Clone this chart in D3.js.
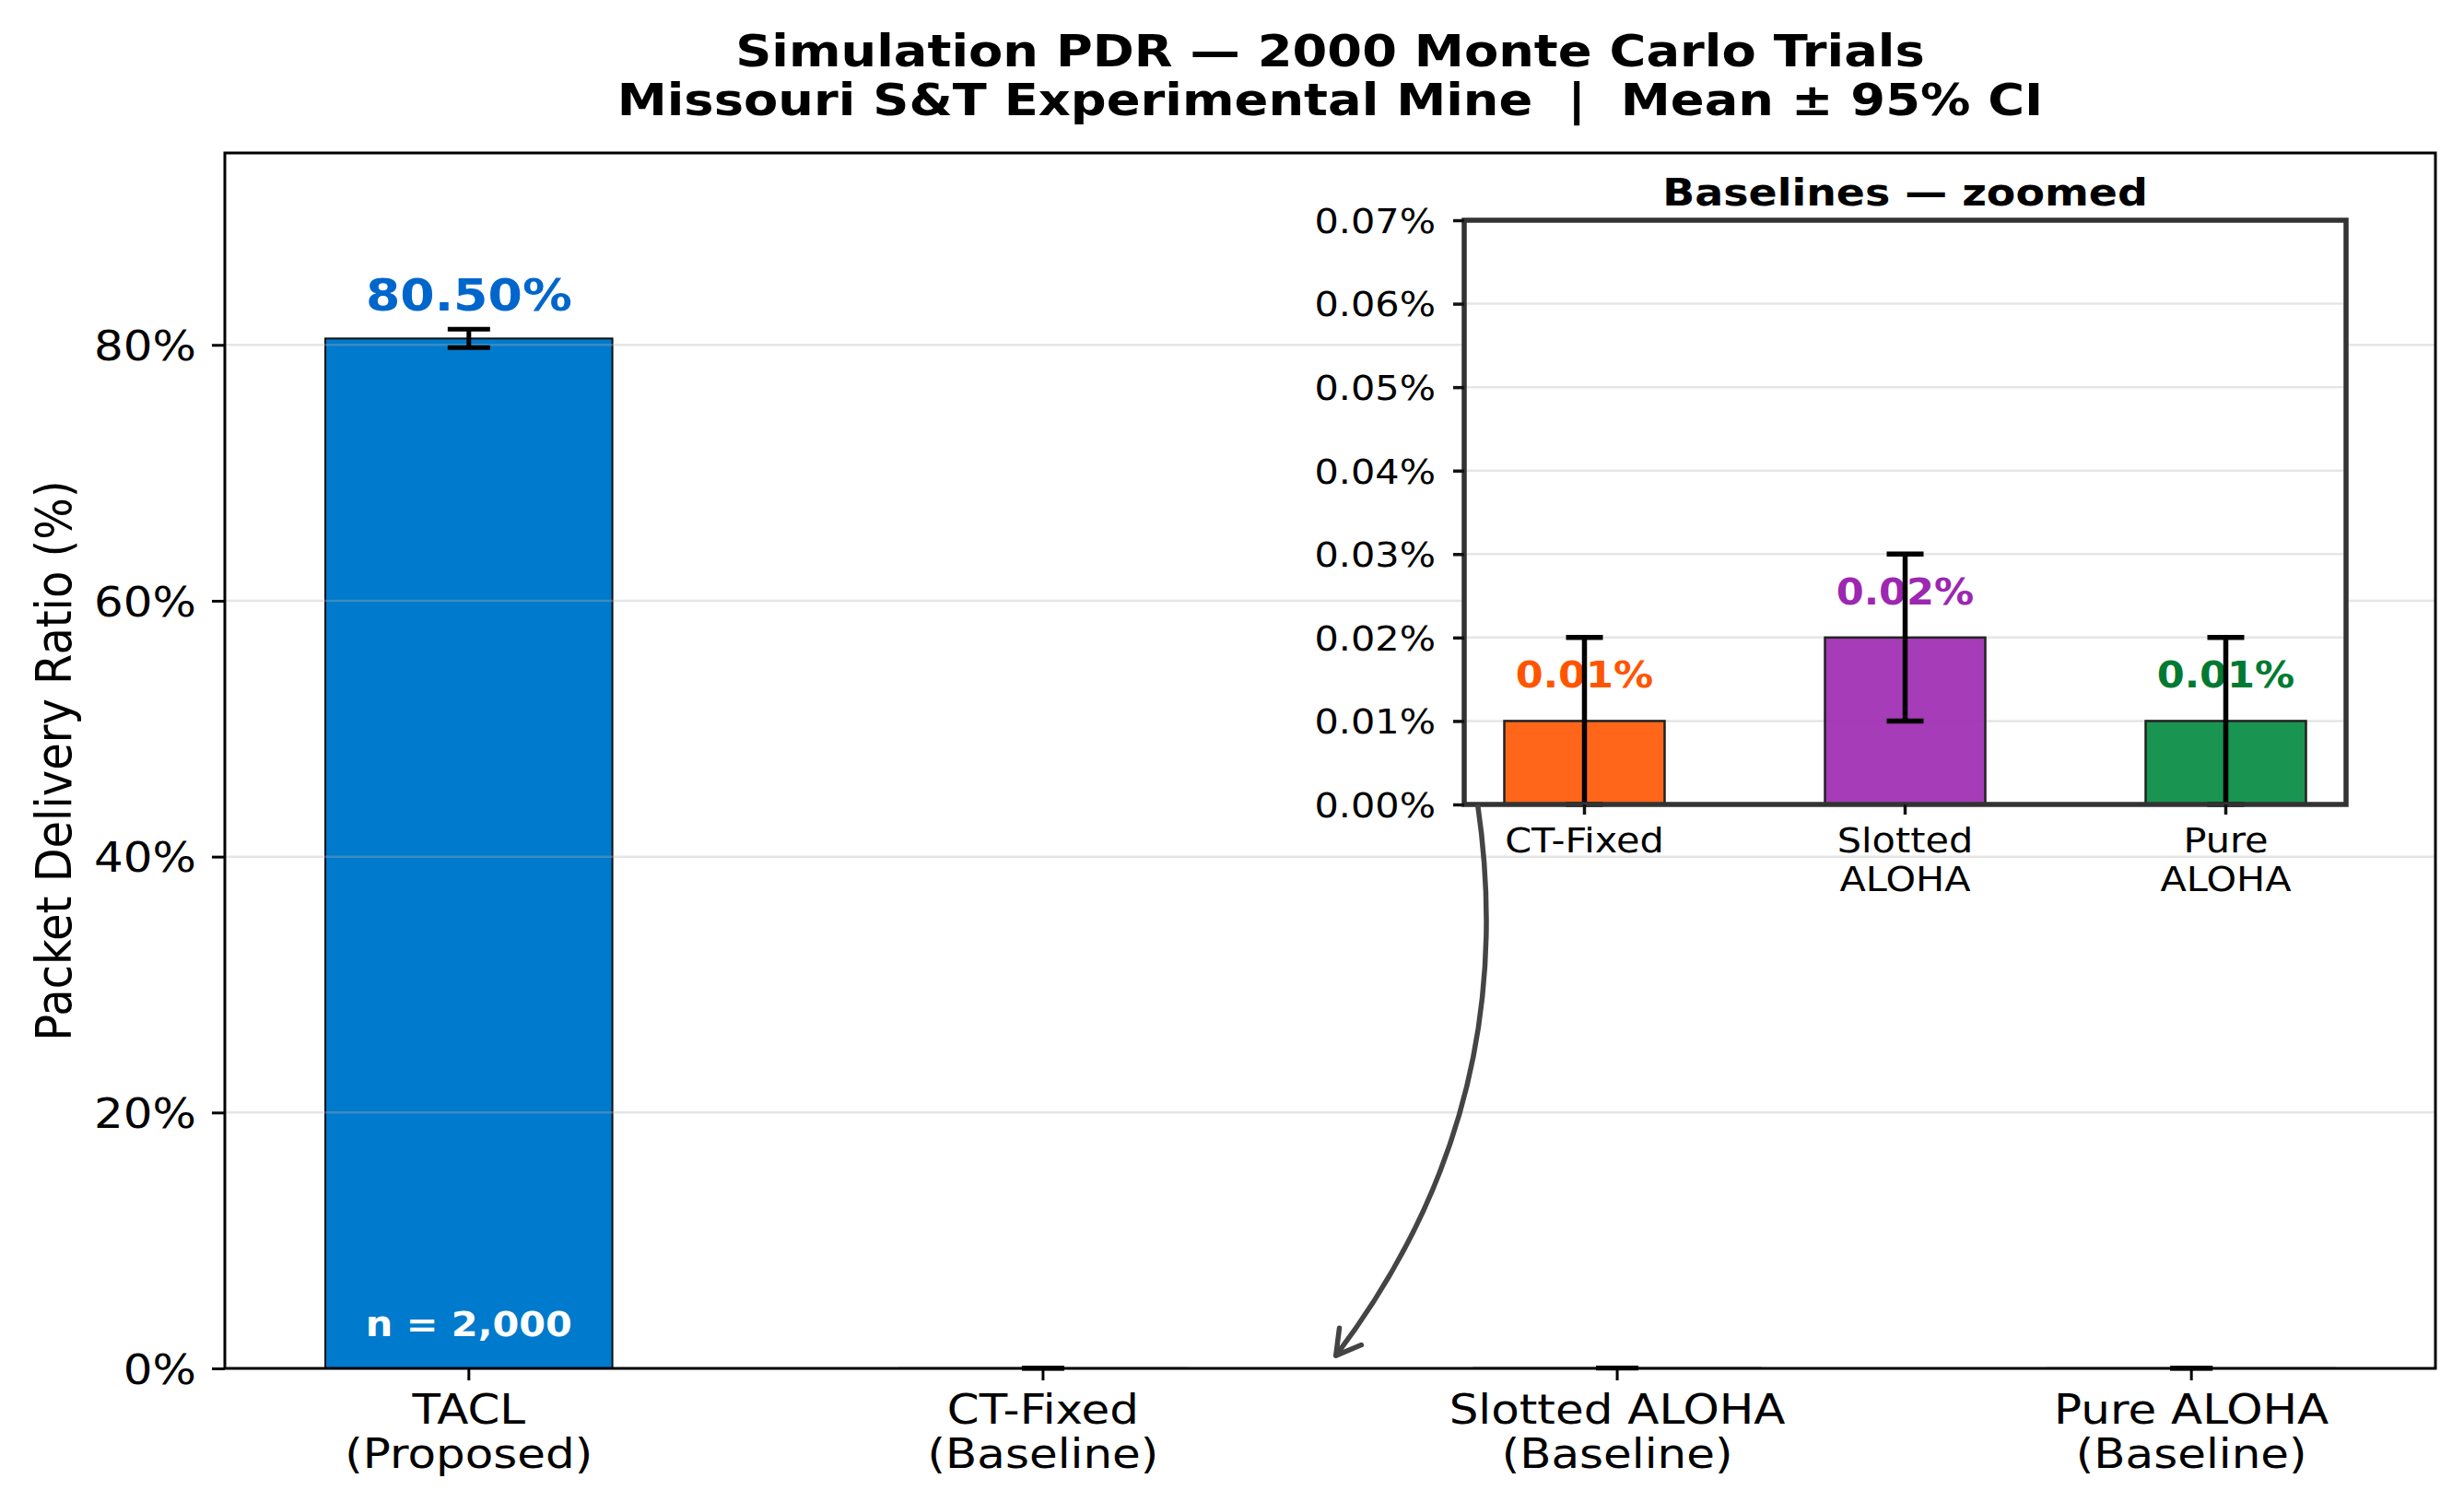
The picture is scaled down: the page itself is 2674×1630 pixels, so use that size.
<!DOCTYPE html>
<html>
<head>
<meta charset="utf-8">
<script src="https://cdn.jsdelivr.net/npm/d3@7"></script>
<style>
  body { margin: 0; background: #fff; }
  text { font-family: "DejaVu Sans", sans-serif; }
</style>
</head>
<body>
<svg id="chart"></svg>
<script>
// ---- data ----
var categories = ["TACL", "CT-Fixed", "Slotted ALOHA", "Pure ALOHA"];
var tickLines = [["TACL", "(Proposed)"], ["CT-Fixed", "(Baseline)"], ["Slotted ALOHA", "(Baseline)"], ["Pure ALOHA", "(Baseline)"]];
var pdrMean = [80.50, 0.01, 0.02, 0.01];
var pdrCI = [0.72, 0.01, 0.01, 0.01];
var barColors = ["#007ACC", "#FF5500", "#9C27B0", "#008A3E"];
var labelColors = ["#0066CC", "#FF5500", "#9C27B0", "#007A33"];
var yTicks = [0, 20, 40, 60, 80];
var sampleLabel = "n = 2,000";

var insetCategories = ["CT-Fixed", "Slotted ALOHA", "Pure ALOHA"];
var insetTickLines = [["CT-Fixed"], ["Slotted", "ALOHA"], ["Pure", "ALOHA"]];
var insetMean = [0.01, 0.02, 0.01];
var insetCI = [0.01, 0.01, 0.01];
var insetTicks = [0, 0.01, 0.02, 0.03, 0.04, 0.05, 0.06, 0.07];

// arrow from the inset down to the baseline bars (category offsets / values)
var arrowFrom = { cat: "CT-Fixed", offset: -0.333, value: 0 };   // inset axes
var arrowTo = { cat: "CT-Fixed", offset: 0.51, value: 1.0 };     // main axes
var arrowRad = 0.21;

// ---- layout ----
var width = 2674, height = 1630;
var SX = 1.12; // text in the picture is a little wider than the font
var font = '"DejaVu Sans", sans-serif';
var main = { left: 244, right: 2643, top: 166, bottom: 1485 };
var ins = { left: 1589, right: 2546, top: 239, bottom: 873 };

var svg = d3.select("#chart").attr("width", width).attr("height", height);
svg.append("rect").attr("width", width).attr("height", height).attr("fill", "#fff");

function label(parent, x, y, str, size, weight, color, anchor) {
  return parent.append("text")
    .attr("transform", "translate(" + x + "," + y + ") scale(" + SX + ",1)")
    .attr("text-anchor", anchor || "middle")
    .attr("xml:space", "preserve")
    .style("white-space", "pre")
    .style("font-family", font)
    .style("font-size", size + "px")
    .style("font-weight", weight || "normal")
    .style("fill", color || "#000")
    .text(str);
}

// ---- title ----
var cx = (main.left + main.right) / 2;
label(svg, cx, 72, "Simulation PDR \u2014 2000 Monte Carlo Trials", 48.5, "bold");
label(svg, cx, 125, "Missouri S&T Experimental Mine  |  Mean \u00b1 95% CI", 48.5, "bold");

// ---- main axes ----
var x = d3.scaleBand().domain(categories).range([main.left, main.right])
  .paddingInner(0.5).paddingOuter(0.175);
var y = d3.scaleLinear().domain([0, 95]).range([main.bottom, main.top]);

var g = svg.append("g");

// bars
g.selectAll(".bar").data(categories).enter().append("rect")
  .attr("x", function (d) { return x(d); })
  .attr("width", x.bandwidth())
  .attr("y", function (d, i) { return y(pdrMean[i]); })
  .attr("height", function (d, i) { return y(0) - y(pdrMean[i]); })
  .attr("fill", function (d, i) { return barColors[i]; })
  .attr("fill-opacity", function (d, i) { return i == 0 ? 1 : 0.9; })
  .attr("stroke", "#111")
  .attr("stroke-width", 2);

// grid (drawn over the bars, faint)
g.selectAll(".grid").data(yTicks.slice(1)).enter().append("line")
  .attr("x1", main.left).attr("x2", main.right)
  .attr("y1", function (d) { return y(d); }).attr("y2", function (d) { return y(d); })
  .attr("stroke", "#b0b0b0").attr("stroke-opacity", 0.33).attr("stroke-width", 2.5);

// error bars
function errorBars(parent, xs, ys, cats, means, cis, cap, lw) {
  var eb = parent.append("g").attr("stroke", "#000").attr("stroke-width", lw);
  cats.forEach(function (c, i) {
    var xc = xs(c) + xs.bandwidth() / 2;
    var lo = ys(means[i] - cis[i]), hi = ys(means[i] + cis[i]);
    eb.append("line").attr("x1", xc).attr("x2", xc).attr("y1", lo).attr("y2", hi);
    eb.append("line").attr("x1", xc - cap / 2).attr("x2", xc + cap / 2).attr("y1", lo).attr("y2", lo);
    eb.append("line").attr("x1", xc - cap / 2).attr("x2", xc + cap / 2).attr("y1", hi).attr("y2", hi);
  });
}
errorBars(g, x, y, categories, pdrMean, pdrCI, 46, 5);

// value label and sample size on TACL
var xt = x(categories[0]) + x.bandwidth() / 2;
label(g, xt, y(pdrMean[0] + pdrCI[0]) - 20, pdrMean[0].toFixed(2) + "%", 48, "bold", labelColors[0]);
label(g, xt, y(0) - 35, sampleLabel, 37, "bold", "#fff");

// spines
g.append("rect")
  .attr("x", main.left).attr("y", main.top)
  .attr("width", main.right - main.left).attr("height", main.bottom - main.top)
  .attr("fill", "none").attr("stroke", "#000").attr("stroke-width", 3);

// y axis
var yAxis = g.append("g").attr("transform", "translate(" + main.left + ",0)")
  .call(d3.axisLeft(y).tickValues(yTicks).tickFormat(function (d) { return d + "%"; }).tickSize(14));
yAxis.select(".domain").remove();
yAxis.selectAll(".tick line").attr("stroke", "#000").attr("stroke-width", 3);
yAxis.selectAll(".tick text")
  .attr("x", null).attr("dy", "0.36em")
  .attr("transform", "translate(-31,0) scale(" + SX + ",1)")
  .style("font-family", font).style("font-size", "44.6px").style("fill", "#000");

// x axis
var xAxis = g.append("g").attr("transform", "translate(0," + main.bottom + ")")
  .call(d3.axisBottom(x).tickSize(13));
xAxis.select(".domain").remove();
xAxis.selectAll(".tick line").attr("stroke", "#000").attr("stroke-width", 3);
xAxis.selectAll(".tick text").each(function (d, i) {
  var t = d3.select(this).text(null)
    .attr("y", null).attr("dy", null)
    .attr("transform", "translate(0,60) scale(" + SX + ",1)")
    .style("font-family", font).style("font-size", "44.6px").style("fill", "#000");
  tickLines[i].forEach(function (s, k) {
    t.append("tspan").attr("x", 0).attr("dy", k == 0 ? 0 : 48).text(s);
  });
});

// y label
svg.append("text")
  .attr("transform", "translate(77," + ((main.top + main.bottom) / 2) + ") scale(" + SX + ",1) rotate(-90)")
  .attr("text-anchor", "middle")
  .style("font-family", font).style("font-size", "48px")
  .text("Packet Delivery Ratio (%)");

// ---- inset ----
var xi = d3.scaleBand().domain(insetCategories).range([ins.left, ins.right])
  .paddingInner(0.5).paddingOuter(0.125);
var yi = d3.scaleLinear().domain([0, 0.07]).range([ins.bottom, ins.top]);

var gi = svg.append("g");
gi.append("rect")
  .attr("x", ins.left).attr("y", ins.top)
  .attr("width", ins.right - ins.left).attr("height", ins.bottom - ins.top)
  .attr("fill", "#fff");

gi.selectAll(".igrid").data(insetTicks.slice(1)).enter().append("line")
  .attr("x1", ins.left).attr("x2", ins.right)
  .attr("y1", function (d) { return yi(d); }).attr("y2", function (d) { return yi(d); })
  .attr("stroke", "#e6e6e6").attr("stroke-width", 2.5);

gi.selectAll(".ibar").data(insetCategories).enter().append("rect")
  .attr("x", function (d) { return xi(d); })
  .attr("width", xi.bandwidth())
  .attr("y", function (d, i) { return yi(insetMean[i]); })
  .attr("height", function (d, i) { return yi(0) - yi(insetMean[i]); })
  .attr("fill", function (d, i) { return barColors[i + 1]; })
  .attr("fill-opacity", 0.9)
  .attr("stroke", "#222")
  .attr("stroke-width", 2.5);

insetCategories.forEach(function (c, i) {
  label(gi, xi(c) + xi.bandwidth() / 2, yi(insetMean[i]) - 36,
    insetMean[i].toFixed(2) + "%", 38.5, "bold", labelColors[i + 1]);
});

errorBars(gi, xi, yi, insetCategories, insetMean, insetCI, 40, 5.5);

gi.append("rect")
  .attr("x", ins.left).attr("y", ins.top)
  .attr("width", ins.right - ins.left).attr("height", ins.bottom - ins.top)
  .attr("fill", "none").attr("stroke", "#333").attr("stroke-width", 5.5);

var yiAxis = gi.append("g").attr("transform", "translate(" + ins.left + ",0)")
  .call(d3.axisLeft(yi).tickValues(insetTicks).tickFormat(function (d) { return d.toFixed(2) + "%"; }).tickSize(12));
yiAxis.select(".domain").remove();
yiAxis.selectAll(".tick line").attr("stroke", "#111").attr("stroke-width", 3.5);
yiAxis.selectAll(".tick text")
  .attr("x", null).attr("dy", "0.36em")
  .attr("transform", "translate(-31,0) scale(" + SX + ",1)")
  .style("font-family", font).style("font-size", "37px").style("fill", "#000");

var xiAxis = gi.append("g").attr("transform", "translate(0," + ins.bottom + ")")
  .call(d3.axisBottom(xi).tickSize(11));
xiAxis.select(".domain").remove();
xiAxis.selectAll(".tick line").attr("stroke", "#111").attr("stroke-width", 3.5);
xiAxis.selectAll(".tick text").each(function (d, i) {
  var t = d3.select(this).text(null)
    .attr("y", null).attr("dy", null)
    .attr("transform", "translate(0,52) scale(" + SX + ",1)")
    .style("font-family", font).style("font-size", "37px").style("fill", "#000");
  insetTickLines[i].forEach(function (s, k) {
    t.append("tspan").attr("x", 0).attr("dy", k == 0 ? 0 : 42).text(s);
  });
});

label(gi, (ins.left + ins.right) / 2, 223, "Baselines \u2014 zoomed", 41, "bold");

// ---- curved arrow ----
var p0 = [xi(arrowFrom.cat) + xi.bandwidth() / 2 + arrowFrom.offset * xi.step(), yi(arrowFrom.value)];
var p1 = [x(arrowTo.cat) + x.bandwidth() / 2 + arrowTo.offset * x.step(), y(arrowTo.value)];
var dx = p1[0] - p0[0], dy = p1[1] - p0[1];
var ctrl = [(p0[0] + p1[0]) / 2 + arrowRad * dy, (p0[1] + p1[1]) / 2 - arrowRad * dx];
var curve = d3.path();
curve.moveTo(p0[0], p0[1]);
curve.quadraticCurveTo(ctrl[0], ctrl[1], p1[0], p1[1]);
svg.append("path").attr("d", curve.toString())
  .attr("fill", "none").attr("stroke", "#444").attr("stroke-width", 5.5);

var ux = p1[0] - ctrl[0], uy = p1[1] - ctrl[1];
var ul = Math.sqrt(ux * ux + uy * uy);
ux /= ul; uy /= ul;
var headLen = 30, ang = 30 * Math.PI / 180;
var head = d3.path();
[-ang, ang].forEach(function (a, k) {
  var bx = -ux * Math.cos(a) + uy * Math.sin(a);
  var by = -uy * Math.cos(a) - ux * Math.sin(a);
  head.moveTo(p1[0] + bx * headLen, p1[1] + by * headLen);
  head.lineTo(p1[0], p1[1]);
});
svg.append("path").attr("d", head.toString())
  .attr("fill", "none").attr("stroke", "#444").attr("stroke-width", 5.5)
  .attr("stroke-linecap", "round").attr("stroke-linejoin", "round");
</script>
</body>
</html>
